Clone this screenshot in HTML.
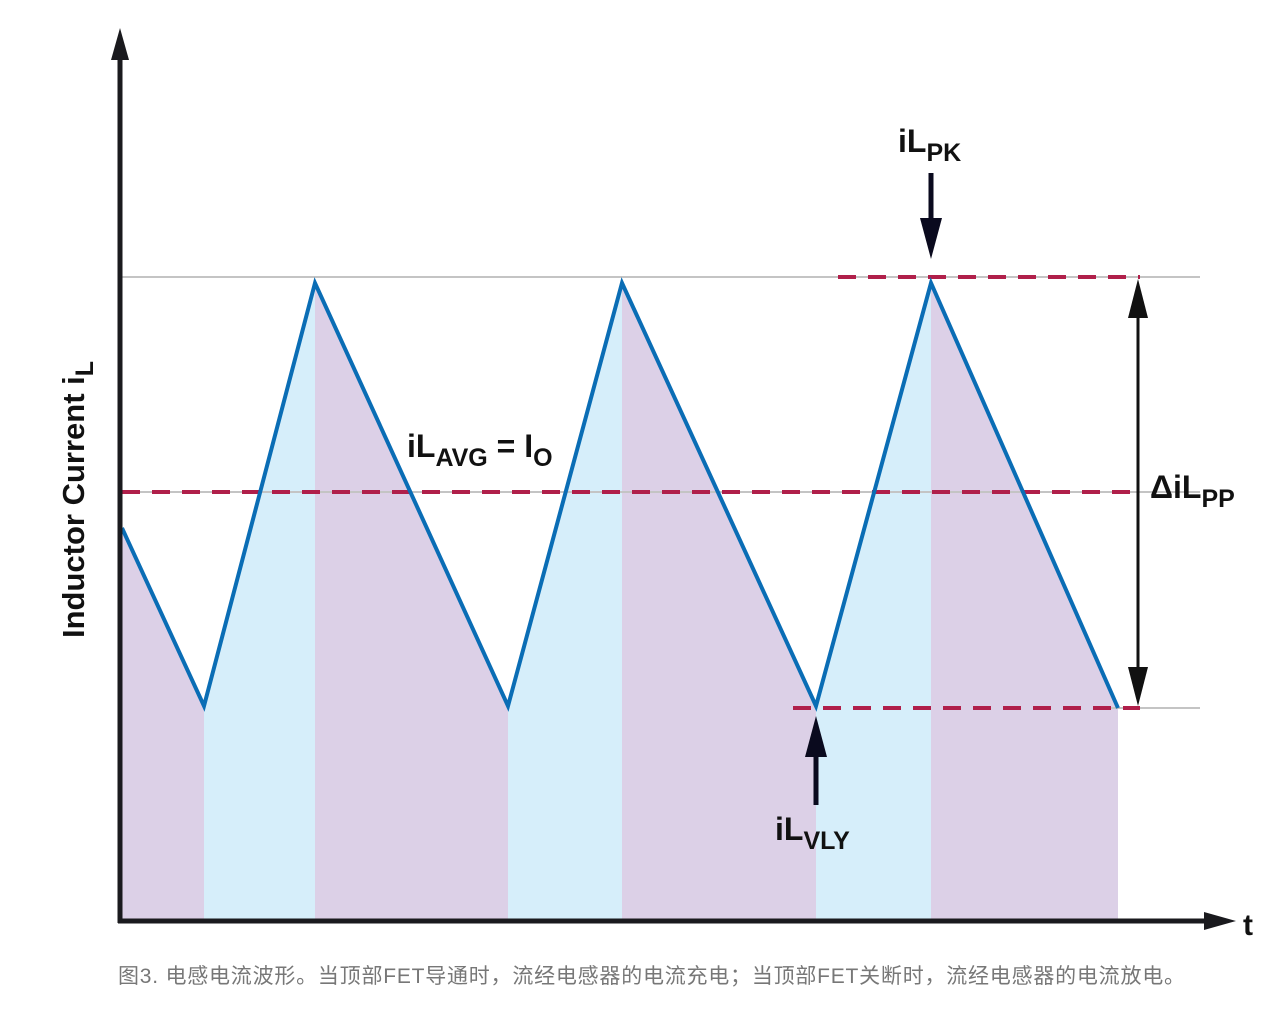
<!DOCTYPE html>
<html><head><meta charset="utf-8"><style>
body{margin:0;background:#fff;width:1280px;height:1011px;overflow:hidden}
svg{display:block}
text{font-family:"Liberation Sans","DejaVu Sans",sans-serif;font-weight:bold;fill:#111}
</style></head><body>
<svg width="1280" height="1011" viewBox="0 0 1280 1011">
<polygon points="122,528 204,706 204,921 122,921" fill="#dcd0e7"/>
<polygon points="204,706 315,283 315,921 204,921" fill="#d6eefa"/>
<polygon points="315,283 508,706 508,921 315,921" fill="#dcd0e7"/>
<polygon points="508,706 622,283 622,921 508,921" fill="#d6eefa"/>
<polygon points="622,283 816,706 816,921 622,921" fill="#dcd0e7"/>
<polygon points="816,706 931,283 931,921 816,921" fill="#d6eefa"/>
<polygon points="931,283 1118,708 1118,921 931,921" fill="#dcd0e7"/>
<line x1="122" y1="277" x2="1200" y2="277" stroke="#c4c4c4" stroke-width="2"/>
<line x1="122" y1="492" x2="1200" y2="492" stroke="#c4c4c4" stroke-width="2"/>
<line x1="1100" y1="708" x2="1200" y2="708" stroke="#c4c4c4" stroke-width="2"/>
<line x1="122" y1="492" x2="1140" y2="492" stroke="#b01f4a" stroke-width="4" stroke-dasharray="18,12"/>
<line x1="838" y1="277" x2="1140" y2="277" stroke="#b01f4a" stroke-width="4" stroke-dasharray="18,12"/>
<line x1="793" y1="708" x2="1140" y2="708" stroke="#b01f4a" stroke-width="4" stroke-dasharray="18,12"/>
<polyline points="122,528 204,706 315,283 508,706 622,283 816,706 931,283 1118,708" fill="none" stroke="#0a6db5" stroke-width="4" stroke-linejoin="miter"/>
<line x1="120" y1="48" x2="120" y2="923" stroke="#1a1a1e" stroke-width="5"/>
<polygon points="120,28 111,60 129,60" fill="#1a1a1e"/>
<line x1="118" y1="921" x2="1212" y2="921" stroke="#1a1a1e" stroke-width="5"/>
<polygon points="1236,921 1204,912 1204,930" fill="#1a1a1e"/>
<line x1="1138" y1="300" x2="1138" y2="684" stroke="#111" stroke-width="3"/>
<polygon points="1138,279 1128,318 1148,318" fill="#111"/>
<polygon points="1138,706 1128,667 1148,667" fill="#111"/>
<line x1="931" y1="173" x2="931" y2="225" stroke="#0a0a1e" stroke-width="5"/>
<polygon points="931,259 920,218 942,218" fill="#0a0a1e"/>
<line x1="816" y1="805" x2="816" y2="750" stroke="#0a0a1e" stroke-width="5"/>
<polygon points="816,716 805,757 827,757" fill="#0a0a1e"/>
<text x="898" y="152" font-size="32">iL<tspan font-size="25" dy="9">PK</tspan></text>
<text x="775" y="840" font-size="32">iL<tspan font-size="25" dy="9">VLY</tspan></text>
<text x="1150" y="498" font-size="32">ΔiL<tspan font-size="25" dy="9">PP</tspan></text>
<text x="407" y="457" font-size="32">iL<tspan font-size="25" dy="9">AVG</tspan><tspan dy="-9" font-size="32"> =  I</tspan><tspan font-size="25" dy="9">O</tspan></text>
<text x="1243" y="935" font-size="30">t</text>
<text transform="translate(84,638) rotate(-90)" font-size="31">Inductor Current i<tspan font-size="25" dy="9">L</tspan></text>
<text x="118" y="983" font-size="21" textLength="1067" lengthAdjust="spacing" style="font-weight:normal;fill:#777;font-family:'Liberation Sans','Noto Sans CJK SC',sans-serif">图3. 电感电流波形。当顶部FET导通时，流经电感器的电流充电；当顶部FET关断时，流经电感器的电流放电。</text>
</svg>
</body></html>
